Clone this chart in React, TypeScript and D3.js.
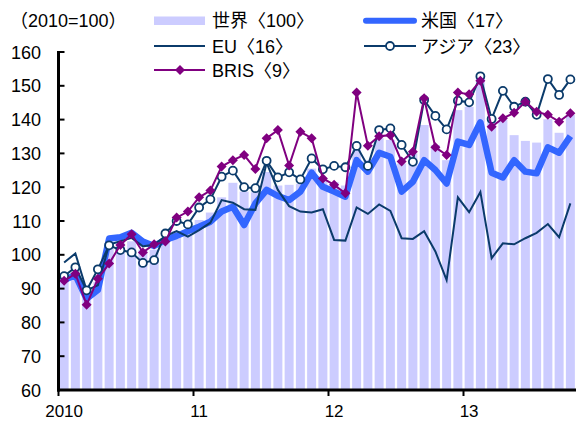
import React from "react";
import * as d3 from "d3";

const months = d3.range(46);
const yearLabels = ["2010", "11", "12", "13"];
const yTicks = [60, 70, 80, 90, 100, 110, 120, 130, 140, 150, 160];

const world = [93, 95, 87.5, 92, 103, 103.5, 104, 101.5, 101.5, 105, 107, 106, 110.3, 112.5, 117, 121.3, 118.7, 118.5, 124.5, 120.5, 120.7, 121, 125.5, 122, 121.5, 120.5, 131, 128, 134.5, 134, 127, 130, 138.4, 132.5, 128, 142.8, 143.8, 152.5, 140.4, 139.9, 135.4, 133.7, 133.2, 140.1, 136.1, 141.4];
const us = [92.5, 94, 87, 89.6, 104.8, 105.2, 106.5, 103.9, 102.6, 104.4, 105.6, 107, 108.3, 109.8, 112.8, 114.2, 108.8, 115.2, 119.2, 117.4, 116.2, 118.7, 124.3, 120.1, 118.7, 117.2, 128, 124.6, 130.2, 129, 118.7, 121.6, 128, 125.1, 121.1, 133.5, 132.5, 139.2, 124.3, 122.9, 128, 124.6, 124.1, 131.8, 130.2, 135.1];
const eu = [97.7, 100.4, 89.5, 91, 103, 104, 105, 102.5, 103, 105.5, 107, 105.4, 107.3, 109.5, 116.2, 115.4, 113.5, 113.3, 127.2, 119.2, 114.4, 112.8, 112.5, 113.5, 104.4, 104.2, 114, 112.1, 114.9, 113, 104.9, 104.7, 107, 101, 92.5, 117, 112.6, 118.6, 99, 103.4, 103.1, 104.9, 106.5, 109.1, 105.2, 115.2];
const asia = [93.7, 96.3, 89.5, 95.7, 102.8, 101.4, 100.7, 97.6, 98.4, 106.3, 110, 109, 114, 116.4, 123.1, 124.9, 120, 119.7, 127.8, 122.9, 124.4, 122.3, 128.5, 125.3, 126.3, 125.9, 132.2, 126.3, 136.9, 137.4, 132.5, 127.5, 145.8, 141.1, 137.1, 145.6, 145.1, 152.8, 140.2, 148.5, 143.8, 145.3, 141.4, 152, 147.3, 151.9];
const bris = [92.3, 94.4, 85.2, 92.9, 97.4, 102.9, 106.1, 100.7, 103.1, 103.9, 111, 112.8, 117, 119, 126.1, 128, 129.5, 125.4, 134.5, 136.9, 126.4, 136.4, 134.5, 122.6, 120.7, 118.2, 148, 132.3, 135.1, 135.4, 127.6, 130.5, 146.3, 131.8, 129.5, 148, 147.5, 151.5, 137.9, 140.4, 142, 145.3, 142.3, 141.4, 139.4, 141.9];

const legendLabels = ["世界〈100〉", "米国〈17〉", "EU〈16〉", "アジア〈23〉", "BRIS〈9〉"];

const W = 585, H = 422;
const left = 58.5, right = 576, top = 52, bottom = 390;
const FONT = "'Liberation Sans', 'Noto Sans CJK JP', sans-serif";
const NAVY = "#0b3b6b";
const BLUE = "#3366ff";
const PURPLE = "#800080";
const LAV = "#ccccff";

export default function App() {
  const x = d3.scaleBand<number>().domain(months).range([left, right]).paddingInner(0.2).paddingOuter(0.1);
  const y = d3.scaleLinear().domain([60, 160]).range([bottom, top]);
  const step = x.step();
  const cx = (i: number) => (x(i) as number) + x.bandwidth() / 2;
  const line = d3.line<number>().x((_, i) => cx(i)).y((d) => y(d));
  const diamond = (px: number, py: number, r: number) => `M${px},${py - r}L${px + r},${py}L${px},${py + r}L${px - r},${py}Z`;

  return (
    <svg width={W} height={H} style={{ position: "absolute", left: 0, top: 0, background: "#fff" }} fontFamily={FONT}>
      {/* bars */}
      {world.map((v, i) => (
        <rect key={i} x={x(i)} y={y(v)} width={x.bandwidth()} height={bottom - y(v)} fill={LAV} />
      ))}
      {/* lines */}
      <path d={line(us) as string} fill="none" stroke={BLUE} strokeWidth={6.5} strokeLinejoin="round" />
      <path d={line(eu) as string} fill="none" stroke={NAVY} strokeWidth={2} strokeLinejoin="miter" />
      <path d={line(asia) as string} fill="none" stroke={NAVY} strokeWidth={2} />
      {asia.map((v, i) => (
        <circle key={i} cx={cx(i)} cy={y(v)} r={4} fill="#fff" stroke={NAVY} strokeWidth={1.8} />
      ))}
      <path d={line(bris) as string} fill="none" stroke={PURPLE} strokeWidth={2} />
      {bris.map((v, i) => (
        <path key={i} d={diamond(cx(i), y(v), 5)} fill={PURPLE} />
      ))}
      {/* axes */}
      <line x1={left} x2={left} y1={top - 1} y2={bottom + 1.5} stroke="#000" strokeWidth={3} />
      <line x1={left - 1.5} x2={right} y1={bottom} y2={bottom} stroke="#000" strokeWidth={3} />
      {yTicks.map((t) => (
        <g key={t}>
          <line x1={left} x2={left + 6} y1={y(t)} y2={y(t)} stroke="#000" strokeWidth={2} />
          <text x={41} y={y(t) + 6.5} textAnchor="end" fontSize={18} fill="#000">{t}</text>
        </g>
      ))}
      {yearLabels.map((lab, k) => (
        <g key={lab}>
          <line x1={left + 12 * k * step} x2={left + 12 * k * step} y1={bottom} y2={bottom + 6} stroke="#000" strokeWidth={2} />
          <text x={cx(12 * k)} y={417} textAnchor="middle" fontSize={17} fill="#000">{lab}</text>
        </g>
      ))}
      {/* legend */}
      <text x={10} y={27} fontSize={18} fill="#000">（2010=100）</text>
      <rect x={154} y={16.5} width={51} height={8.5} fill={LAV} />
      <text x={212} y={27} fontSize={18} fill="#000">{legendLabels[0]}</text>
      <line x1={366} x2={414} y1={20.7} y2={20.7} stroke={BLUE} strokeWidth={6} strokeLinecap="round" />
      <text x={421} y={27} fontSize={18} fill="#000">{legendLabels[1]}</text>
      <line x1={154} x2={205} y1={46} y2={46} stroke={NAVY} strokeWidth={2} />
      <text x={212} y={52.5} fontSize={18} fill="#000">{legendLabels[2]}</text>
      <line x1={364} x2={416} y1={46} y2={46} stroke={NAVY} strokeWidth={2} />
      <circle cx={390} cy={46} r={4} fill="#fff" stroke={NAVY} strokeWidth={1.8} />
      <text x={421} y={52.5} fontSize={18} fill="#000">{legendLabels[3]}</text>
      <line x1={154} x2={205} y1={70} y2={70} stroke={PURPLE} strokeWidth={2} />
      <path d={diamond(180, 70, 5)} fill={PURPLE} />
      <text x={212} y={76.5} fontSize={18} fill="#000">{legendLabels[4]}</text>
    </svg>
  );
}
